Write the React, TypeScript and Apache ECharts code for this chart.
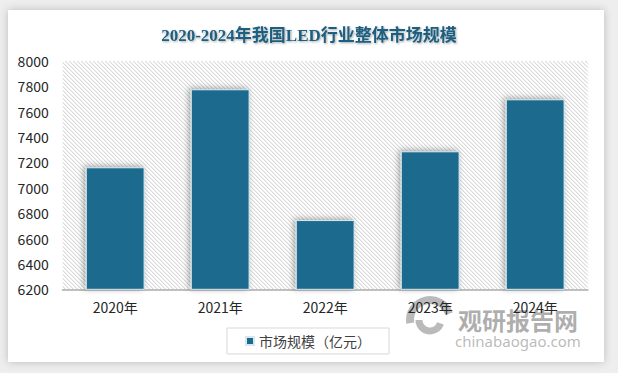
import React, { useEffect, useRef } from "react";
import * as echarts from "echarts";

const categories: string[] = ["2020年", "2021年", "2022年", "2023年", "2024年"];
const marketSize: number[] = [7162, 7777, 6746, 7288, 7698];
const seriesName = "市场规模（亿元）";
const titleText = "2020-2024年我国LED行业整体市场规模";
const yMin = 6200;
const yMax = 8000;
const yInterval = 200;

function makeHatch(): HTMLCanvasElement {
  const c = document.createElement("canvas");
  c.width = 4;
  c.height = 4;
  const ctx = c.getContext("2d")!;
  ctx.fillStyle = "#ffffff";
  ctx.fillRect(0, 0, 4, 4);
  for (let i = 0; i < 4; i++) {
    ctx.fillStyle = "#dadada";
    ctx.fillRect(i, i, 1, 1);
    ctx.fillStyle = "#efefef";
    ctx.fillRect((i + 1) % 4, i, 1, 1);
  }
  return c;
}

export default function App() {
  const ref = useRef<HTMLDivElement>(null);
  useEffect(() => {
    document.body.style.margin = "0";
    const chart = echarts.init(ref.current!, null, { renderer: "svg" });
    const hatch = makeHatch();
    const font = "'Noto Sans CJK SC', 'Noto Sans', sans-serif";
    chart.setOption({
      animation: false,
      backgroundColor: "#eeeeee",
      title: {
        text: titleText,
        left: "center",
        top: 22,
        textStyle: {
          fontFamily: "'Liberation Serif', 'Noto Sans CJK SC', serif",
          fontWeight: "bold",
          fontSize: 17,
          color: "#1f5f80",
          textShadowColor: "rgba(0,0,0,0.35)",
          textShadowBlur: 2,
          textShadowOffsetX: 1,
          textShadowOffsetY: 1,
        },
      },
      grid: {
        left: 62.7,
        right: 30.3,
        top: 61,
        bottom: 83.7,
        show: true,
        borderWidth: 0,
        backgroundColor: { image: hatch, repeat: "repeat", imageWidth: 4, imageHeight: 4 },
      },
      legend: {
        data: [seriesName],
        left: 227,
        bottom: 19,
        icon: "rect",
        itemWidth: 8,
        itemHeight: 8,
        itemGap: 5,
        borderColor: "#d9d9d9",
        borderWidth: 1,
        backgroundColor: "#ffffff",
        padding: [6, 18, 6, 18],
        textStyle: { fontFamily: font, fontSize: 14, color: "#404040" },
      },
      xAxis: {
        type: "category",
        data: categories,
        axisLine: { lineStyle: { color: "#bfbfbf", width: 2 } },
        axisTick: { show: false },
        axisLabel: { fontFamily: font, fontSize: 14, color: "#262626", margin: 11 },
      },
      yAxis: {
        type: "value",
        min: yMin,
        max: yMax,
        interval: yInterval,
        axisLine: { show: false },
        axisTick: { show: false },
        splitLine: { show: false },
        axisLabel: {
          fontFamily: font,
          fontSize: 14,
          color: "#262626",
          margin: 14,
          formatter: (v: number) => String(v),
        },
      },
      series: [
        {
          name: seriesName,
          type: "bar",
          data: marketSize,
          barWidth: "56%",
          itemStyle: {
            color: "#1d6a8e",
            borderColor: "#d5e8f0",
            borderWidth: 1,
            shadowColor: "rgba(0,0,0,0.35)",
            shadowBlur: 6,
            shadowOffsetX: -2,
            shadowOffsetY: -1,
          },
        },
      ],
      graphic: [
        {
          type: "rect",
          z: -10,
          silent: true,
          shape: { x: 8, y: 10, width: 596, height: 352 },
          style: { fill: "#ffffff", shadowColor: "rgba(0,0,0,0.22)", shadowBlur: 8 },
        },
        {
          type: "group",
          z: 100,
          silent: true,
          children: [
            {
              type: "arc",
              shape: { cx: 430, cy: 320, r: 20, startAngle: Math.PI * 0.95, endAngle: Math.PI * 1.9 },
              style: { stroke: "rgba(140,140,140,0.6)", lineWidth: 8, fill: "none" },
            },
            {
              type: "arc",
              shape: { cx: 430, cy: 320, r: 11, startAngle: Math.PI * 0.1, endAngle: Math.PI * 1.0 },
              style: { stroke: "rgba(140,140,140,0.6)", lineWidth: 7, fill: "none" },
            },
            {
              type: "text",
              x: 458,
              y: 307,
              style: {
                text: "观研报告网",
                fontFamily: font,
                fontWeight: "bold",
                fontSize: 24,
                fill: "rgba(120,120,120,0.6)",
              },
            },
            {
              type: "text",
              x: 455,
              y: 333,
              style: {
                text: "chinabaogao.com",
                fontFamily: "'Noto Sans', sans-serif",
                fontSize: 15,
                fill: "rgba(140,140,140,0.6)",
              },
            },
          ],
        },
      ],
    });
    return () => chart.dispose();
  }, []);
  return <div ref={ref} style={{ width: 618, height: 373 }} />;
}
